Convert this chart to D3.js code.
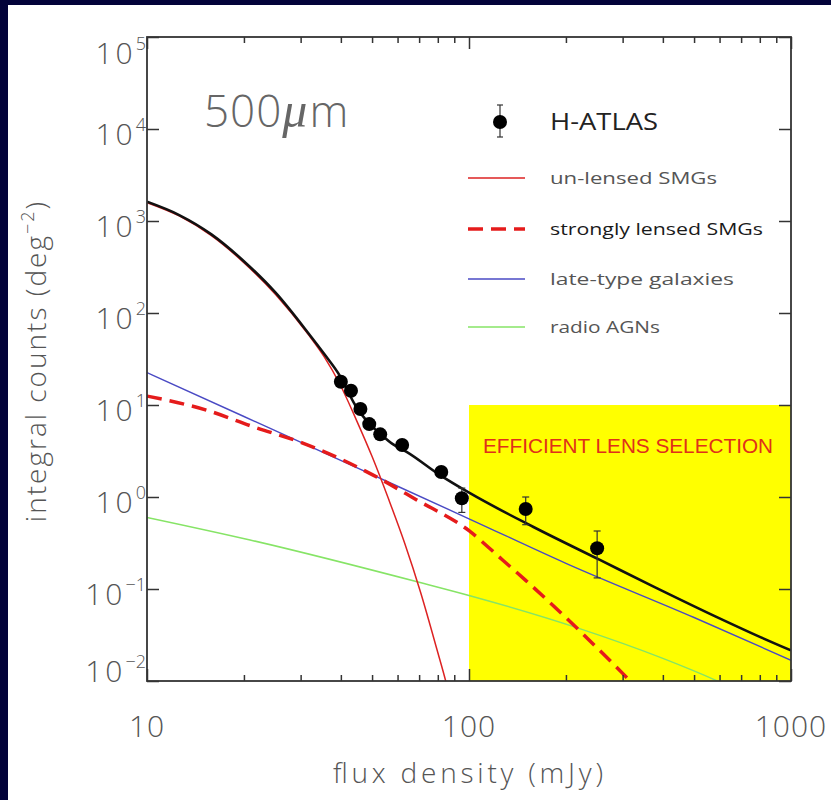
<!DOCTYPE html>
<html>
<head>
<meta charset="utf-8">
<script src="https://cdn.jsdelivr.net/npm/d3@7"></script>
<style>
  html, body { margin: 0; padding: 0; background: #03033a; }
  svg { display: block; }
</style>
</head>
<body>
<svg id="chart" width="831" height="800"></svg>
<script>
// ---------------- data ----------------
const xMajorTicks = [10, 100, 1000];
const xMinorTicks = [20, 30, 40, 50, 60, 70, 80, 90, 200, 300, 400, 500, 600, 700, 800, 900];
const yExponents = [-2, -1, 0, 1, 2, 3, 4, 5];

// H-ATLAS measured integral counts with error bars
const hatlasFlux   = [40, 43, 46, 49, 53, 62, 82, 95, 150, 250];
const hatlasCounts = [17.9, 14.3, 9.05, 6.2, 4.8, 3.67, 1.87, 0.97, 0.74, 0.277];
const hatlasLow    = [17.0, 13.6, 8.6, 5.9, 4.55, 3.45, 1.72, 0.68, 0.50, 0.132];
const hatlasHigh   = [18.8, 15.0, 9.5, 6.5, 5.05, 3.9, 2.03, 1.25, 1.0, 0.427];

// model components
const unlensedFlux   = [10, 12.59, 15.85, 19.95, 25.12, 31.62, 35.48, 39.81, 44.67, 50.12, 56.23, 63.1, 70.8, 79.4, 85.1, 90];
const unlensedCounts = [1585, 1135, 692, 355, 158, 59, 33.5, 16.6, 6.9, 2.7, 0.955, 0.316, 0.091, 0.0224, 0.0093, 0.004];

const lensedFlux   = [10, 15.3, 21.4, 30.6, 50.4, 68.8, 100, 125, 150, 175, 200, 250, 300, 320];
const lensedCounts = [12.5, 8.8, 5.8, 3.83, 1.73, 0.93, 0.43, 0.218, 0.124, 0.0758, 0.0489, 0.0229, 0.0121, 0.0096];

const lateFlux   = [10, 20, 50, 100, 200, 500, 1000];
const lateCounts = [22.5, 7.5, 1.75, 0.58, 0.19, 0.049, 0.0168];

const radioFlux   = [10, 20.9, 70.5, 100, 216, 400, 587, 700];
const radioCounts = [0.60, 0.341, 0.1175, 0.085, 0.038, 0.0176, 0.0101, 0.0076];

const totalFlux   = [10, 12.59, 15.85, 19.95, 25.12, 31.62, 35.48, 39.81, 44.3, 48.5, 52.9, 58, 64, 81.3, 100.7, 158, 255, 373, 600, 800, 1000];
const totalCounts = [1620, 1161, 716, 368, 165, 61, 36, 20.5, 10.0, 6.5, 4.9, 3.75, 3.1, 1.73, 1.1, 0.475, 0.207, 0.107, 0.048, 0.0302, 0.0215];

// lens-selection window (flux range, count range)
const lensWindowFlux = [100, 1000];
const lensWindowCounts = [0.01, 10];

const legendItems = [
  { label: "un-lensed SMGs",       color: "#dd2222", width: 1.5, dash: null,   strong: false },
  { label: "strongly lensed SMGs", color: "#e51b1b", width: 3.5, dash: "15,8", strong: true },
  { label: "late-type galaxies",   color: "#4a4ac4", width: 1.4, dash: null,   strong: false },
  { label: "radio AGNs",           color: "#86e466", width: 1.5, dash: null,   strong: false }
];

// ---------------- layout ----------------
const svg = d3.select("#chart");
const W = 831, H = 800;
const plot = { left: 147, right: 791, top: 37, bottom: 681 };
const textFont = "'Open Sans', 'DejaVu Sans', sans-serif";
const labelGrey = "#555";

const x = d3.scaleLog().domain([10, 1000]).range([plot.left, plot.right]);
const y = d3.scaleLog().domain([0.01, 1e5]).range([plot.bottom, plot.top]);

// page panel
svg.append("rect").attr("x", 0).attr("y", 0).attr("width", W).attr("height", H).attr("fill", "#03033a");
svg.append("rect").attr("x", 8).attr("y", 5).attr("width", W - 8).attr("height", H - 5).attr("fill", "#ffffff");

svg.append("defs").append("clipPath").attr("id", "plotClip")
  .append("rect")
  .attr("x", plot.left).attr("y", plot.top)
  .attr("width", plot.right - plot.left).attr("height", plot.bottom - plot.top);

const gPlot = svg.append("g").attr("clip-path", "url(#plotClip)");

// yellow selection window
gPlot.append("rect")
  .attr("x", x(lensWindowFlux[0]))
  .attr("y", y(lensWindowCounts[1]))
  .attr("width", x(lensWindowFlux[1]) - x(lensWindowFlux[0]))
  .attr("height", y(lensWindowCounts[0]) - y(lensWindowCounts[1]))
  .attr("fill", "#ffff00");

const line = d3.line()
  .x(d => x(d[0]))
  .y(d => y(d[1]))
  .curve(d3.curveMonotoneX);

function drawCurve(fx, fy, color, width, dash) {
  const pts = fx.map((v, i) => [v, fy[i]]);
  const p = gPlot.append("path")
    .datum(pts)
    .attr("d", line)
    .attr("fill", "none")
    .attr("stroke", color)
    .attr("stroke-width", width)
    .attr("stroke-linejoin", "round");
  if (dash) p.attr("stroke-dasharray", dash);
  return p;
}

drawCurve(radioFlux, radioCounts, legendItems[3].color, legendItems[3].width, null);
drawCurve(lateFlux, lateCounts, legendItems[2].color, legendItems[2].width, null);
drawCurve(unlensedFlux, unlensedCounts, legendItems[0].color, legendItems[0].width, null);
drawCurve(totalFlux, totalCounts, "#111111", 2.6, null);
drawCurve(lensedFlux, lensedCounts, legendItems[1].color, legendItems[1].width, legendItems[1].dash);

// H-ATLAS points with error bars
const pts = hatlasFlux.map((f, i) => ({ f, n: hatlasCounts[i], lo: hatlasLow[i], hi: hatlasHigh[i] }));
const gPts = gPlot.append("g");
const capW = 3.5;
gPts.selectAll("line.err").data(pts).join("line")
  .attr("class", "err")
  .attr("x1", d => x(d.f)).attr("x2", d => x(d.f))
  .attr("y1", d => y(d.lo)).attr("y2", d => y(d.hi))
  .attr("stroke", "#333").attr("stroke-width", 1.2);
gPts.selectAll("line.capLo").data(pts).join("line")
  .attr("class", "capLo")
  .attr("x1", d => x(d.f) - capW).attr("x2", d => x(d.f) + capW)
  .attr("y1", d => y(d.lo)).attr("y2", d => y(d.lo))
  .attr("stroke", "#333").attr("stroke-width", 1.2);
gPts.selectAll("line.capHi").data(pts).join("line")
  .attr("class", "capHi")
  .attr("x1", d => x(d.f) - capW).attr("x2", d => x(d.f) + capW)
  .attr("y1", d => y(d.hi)).attr("y2", d => y(d.hi))
  .attr("stroke", "#333").attr("stroke-width", 1.2);
gPts.selectAll("circle").data(pts).join("circle")
  .attr("cx", d => x(d.f)).attr("cy", d => y(d.n)).attr("r", 7)
  .attr("fill", "#000");

// ---------------- axes ----------------
const axisColor = "#333";
function styleAxis(g) {
  g.select(".domain").remove();
  g.selectAll(".tick line").attr("stroke", axisColor).attr("stroke-width", 1.5);
  g.selectAll(".tick text").remove();
}
const decadeValues = yExponents.map(e => Math.pow(10, e));

svg.append("g").attr("transform", `translate(0,${plot.bottom})`)
  .call(d3.axisBottom(x).tickValues(xMajorTicks).tickSize(-12).tickFormat(""))
  .call(styleAxis);
svg.append("g").attr("transform", `translate(0,${plot.bottom})`)
  .call(d3.axisBottom(x).tickValues(xMinorTicks).tickSize(-6).tickFormat(""))
  .call(styleAxis);
svg.append("g").attr("transform", `translate(0,${plot.top})`)
  .call(d3.axisTop(x).tickValues(xMajorTicks).tickSize(-12).tickFormat(""))
  .call(styleAxis);
svg.append("g").attr("transform", `translate(0,${plot.top})`)
  .call(d3.axisTop(x).tickValues(xMinorTicks).tickSize(-6).tickFormat(""))
  .call(styleAxis);
svg.append("g").attr("transform", `translate(${plot.left},0)`)
  .call(d3.axisLeft(y).tickValues(decadeValues).tickSize(-12).tickFormat(""))
  .call(styleAxis);
svg.append("g").attr("transform", `translate(${plot.right},0)`)
  .call(d3.axisRight(y).tickValues(decadeValues).tickSize(-12).tickFormat(""))
  .call(styleAxis);

// frame
svg.append("rect")
  .attr("x", plot.left).attr("y", plot.top)
  .attr("width", plot.right - plot.left).attr("height", plot.bottom - plot.top)
  .attr("fill", "none").attr("stroke", axisColor).attr("stroke-width", 1.8);

// x tick labels
svg.append("g").selectAll("text").data(xMajorTicks).join("text")
  .attr("x", d => x(d)).attr("y", 737)
  .attr("text-anchor", "middle")
  .attr("font-family", textFont).attr("font-size", 30).attr("font-weight", 300)
  .attr("letter-spacing", 1)
  .attr("fill", labelGrey)
  .text(d => d);

// y tick labels as powers of ten
const yLab = svg.append("g").selectAll("text").data(yExponents).join("text")
  .attr("x", 146)
  .attr("y", e => {
    const base = y(Math.pow(10, e));
    if (e === yExponents[yExponents.length - 1]) return base + 27;
    if (e === yExponents[0]) return base + 1;
    return base + 16;
  })
  .attr("text-anchor", "end")
  .attr("font-family", textFont).attr("font-weight", 300).attr("fill", labelGrey);
yLab.append("tspan").attr("font-size", 30).attr("letter-spacing", 3).text("10");
yLab.append("tspan").attr("font-size", 18).attr("dy", -14)
  .text(e => e < 0 ? "\u2212" + Math.abs(e) : String(e));

// axis titles
svg.append("text")
  .attr("x", (plot.left + plot.right) / 2 - 1).attr("y", 783)
  .attr("text-anchor", "middle")
  .attr("font-family", textFont).attr("font-size", 28).attr("font-weight", 300)
  .attr("textLength", 270).attr("lengthAdjust", "spacing")
  .attr("fill", labelGrey)
  .text("flux density (mJy)");

const yTitle = svg.append("text")
  .attr("transform", `translate(46,${(plot.top + plot.bottom) / 2 + 2}) rotate(-90)`)
  .attr("text-anchor", "middle")
  .attr("font-family", textFont).attr("font-size", 28).attr("font-weight", 300)
  .attr("letter-spacing", 2)
  .attr("fill", labelGrey);
yTitle.append("tspan").text("integral counts (deg");
yTitle.append("tspan").attr("font-size", 18).attr("dy", -12).text("\u22122");
yTitle.append("tspan").attr("dy", 12).text(")");

// wavelength label
const title = svg.append("text")
  .attr("x", 204).attr("y", 127)
  .attr("font-family", textFont).attr("font-weight", 300)
  .attr("fill", "#666");
title.append("tspan").attr("font-size", 44).attr("letter-spacing", 1).text("500");
title.append("tspan").attr("font-size", 50).attr("font-style", "italic")
  .attr("font-family", "'Liberation Serif', serif").attr("font-weight", 400).text("\u03bc");
title.append("tspan").attr("font-size", 44).attr("dx", 2).text("m");

// selection window label
svg.append("text")
  .attr("x", 483).attr("y", 453)
  .attr("font-family", "'Liberation Sans Narrow', 'Liberation Sans', sans-serif")
  .attr("font-size", 20)
  .attr("textLength", 290).attr("lengthAdjust", "spacingAndGlyphs")
  .attr("fill", "#e0301a")
  .text("EFFICIENT LENS SELECTION");

// ---------------- legend ----------------
const legend = svg.append("g");
const lx0 = 468, lx1 = 525, ltx = 550;
// data-point entry
legend.append("line").attr("x1", 500).attr("x2", 500).attr("y1", 105).attr("y2", 137)
  .attr("stroke", "#333").attr("stroke-width", 1.2);
legend.append("line").attr("x1", 497).attr("x2", 503).attr("y1", 105).attr("y2", 105)
  .attr("stroke", "#333").attr("stroke-width", 1.2);
legend.append("line").attr("x1", 497).attr("x2", 503).attr("y1", 137).attr("y2", 137)
  .attr("stroke", "#333").attr("stroke-width", 1.2);
legend.append("circle").attr("cx", 500).attr("cy", 122).attr("r", 7).attr("fill", "#000");
legend.append("text").attr("x", ltx).attr("y", 130)
  .attr("font-family", textFont).attr("font-size", 23)
  .attr("textLength", 108).attr("lengthAdjust", "spacingAndGlyphs")
  .attr("fill", "#222").text("H-ATLAS");

const lineRows = [178, 229, 279, 327];
const textWidths = [167, 213, 184, 110];
legendItems.forEach((item, i) => {
  const ly = lineRows[i];
  const l = legend.append("line").attr("x1", lx0).attr("x2", lx1).attr("y1", ly).attr("y2", ly)
    .attr("stroke", item.color).attr("stroke-width", item.width);
  if (item.dash) l.attr("stroke-dasharray", item.dash);
  legend.append("text").attr("x", ltx).attr("y", ly + 6)
    .attr("font-family", textFont).attr("font-size", 17)
    .attr("textLength", textWidths[i]).attr("lengthAdjust", "spacingAndGlyphs")
    .attr("fill", item.strong ? "#1a1a1a" : labelGrey)
    .attr("font-weight", item.strong ? 500 : 400)
    .text(item.label);
});
</script>
</body>
</html>
